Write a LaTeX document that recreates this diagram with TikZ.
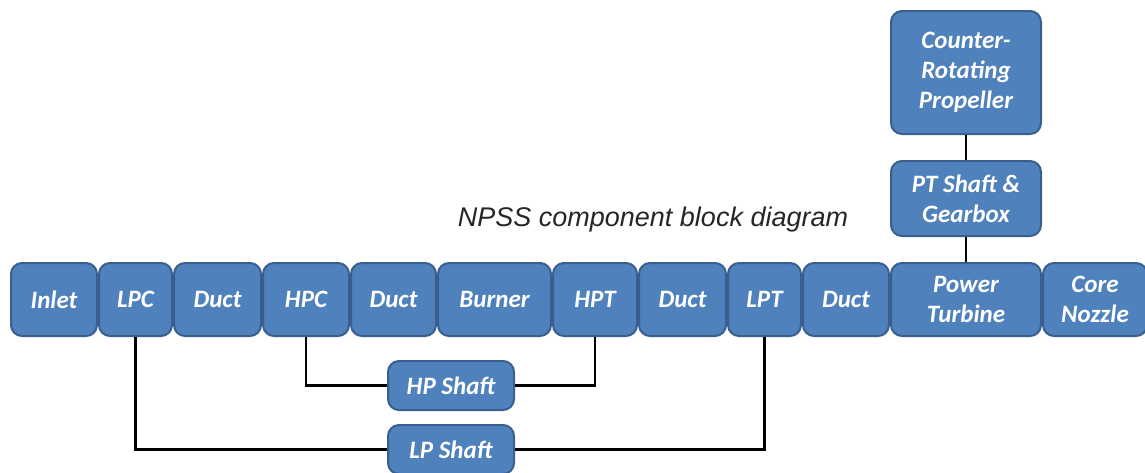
\documentclass[tikz,border=0pt]{standalone}
\usepackage{fontspec}
\setmainfont{Carlito}
\newfontfamily\titlefont{Liberation Sans}
\usetikzlibrary{positioning}

\definecolor{blockfill}{HTML}{4F81BD}
\definecolor{blockline}{HTML}{3A5F8C}

\begin{document}
\begin{tikzpicture}[
            x = 1pt,
            y = 1pt,
            node distance = 0pt,
            block/.style = {
                draw = blockline,
                fill = blockfill,
                line width = 2pt,
                rounded corners = 11pt,
                text = white,
                align = center,
                inner sep = 1pt,
                font = \fontsize{25}{30}\selectfont\bfseries\itshape,
                minimum height = 73pt
            },
            shaft/.style = {
                line width = 2.6pt,
                black
            }
        ]
        \useasboundingbox (0,0) rectangle (1145,-472);

        % main flow path
        \node[block, minimum width=86pt, anchor=west] (Inlet) at (10,-299.5) {Inlet};
        \node[block, minimum width=73pt, right=of Inlet] (LPC) {LPC};
        \node[block, minimum width=87pt, right=of LPC] (Duct1) {Duct};
        \node[block, minimum width=86pt, right=of Duct1] (HPC) {HPC};
        \node[block, minimum width=85pt, right=of HPC] (Duct2) {Duct};
        \node[block, minimum width=113pt, right=of Duct2] (Burner) {Burner};
        \node[block, minimum width=84pt, right=of Burner] (HPT) {HPT};
        \node[block, minimum width=87pt, right=of HPT] (Duct3) {Duct};
        \node[block, minimum width=73pt, right=of Duct3] (LPT) {LPT};
        \node[block, minimum width=86pt, right=of LPT] (Duct4) {Duct};
        \node[block, minimum width=150pt, right=of Duct4] (PT) {Power\\Turbine};
        \node[block, minimum width=104pt, right=of PT] (Nozzle) {Core\\Nozzle};

        % power turbine branch
        \node[block, minimum width=150pt, minimum height=75pt, above=25pt of PT] (Gearbox) {PT Shaft \&\\Gearbox};
        \node[block, minimum width=150pt, minimum height=123pt, above=25pt of Gearbox] (Prop) {Counter-\\Rotating\\Propeller};

        % shafts
        \node[block, minimum width=126pt, minimum height=49pt] (HPshaft) at (451,-385.5) {HP Shaft};
        \node[block, minimum width=126pt, minimum height=49pt, below=13pt of HPshaft] (LPshaft) {LP Shaft};

        \node[font=\titlefont\itshape\fontsize{27}{30}\selectfont, text=black!85, anchor=base] (Title) at (653,-226) {NPSS component block diagram};

        \draw[shaft] (HPC.south) |- (HPshaft.west);
        \draw[shaft] (HPT.south) |- (HPshaft.east);
        \draw[shaft] (LPC.south) |- (LPshaft.west);
        \draw[shaft] (LPT.south) |- (LPshaft.east);
        \draw[shaft] (Prop.south) -- (Gearbox.north);
        \draw[shaft] (Gearbox.south) -- (PT.north);
    \end{tikzpicture}
\end{document}
